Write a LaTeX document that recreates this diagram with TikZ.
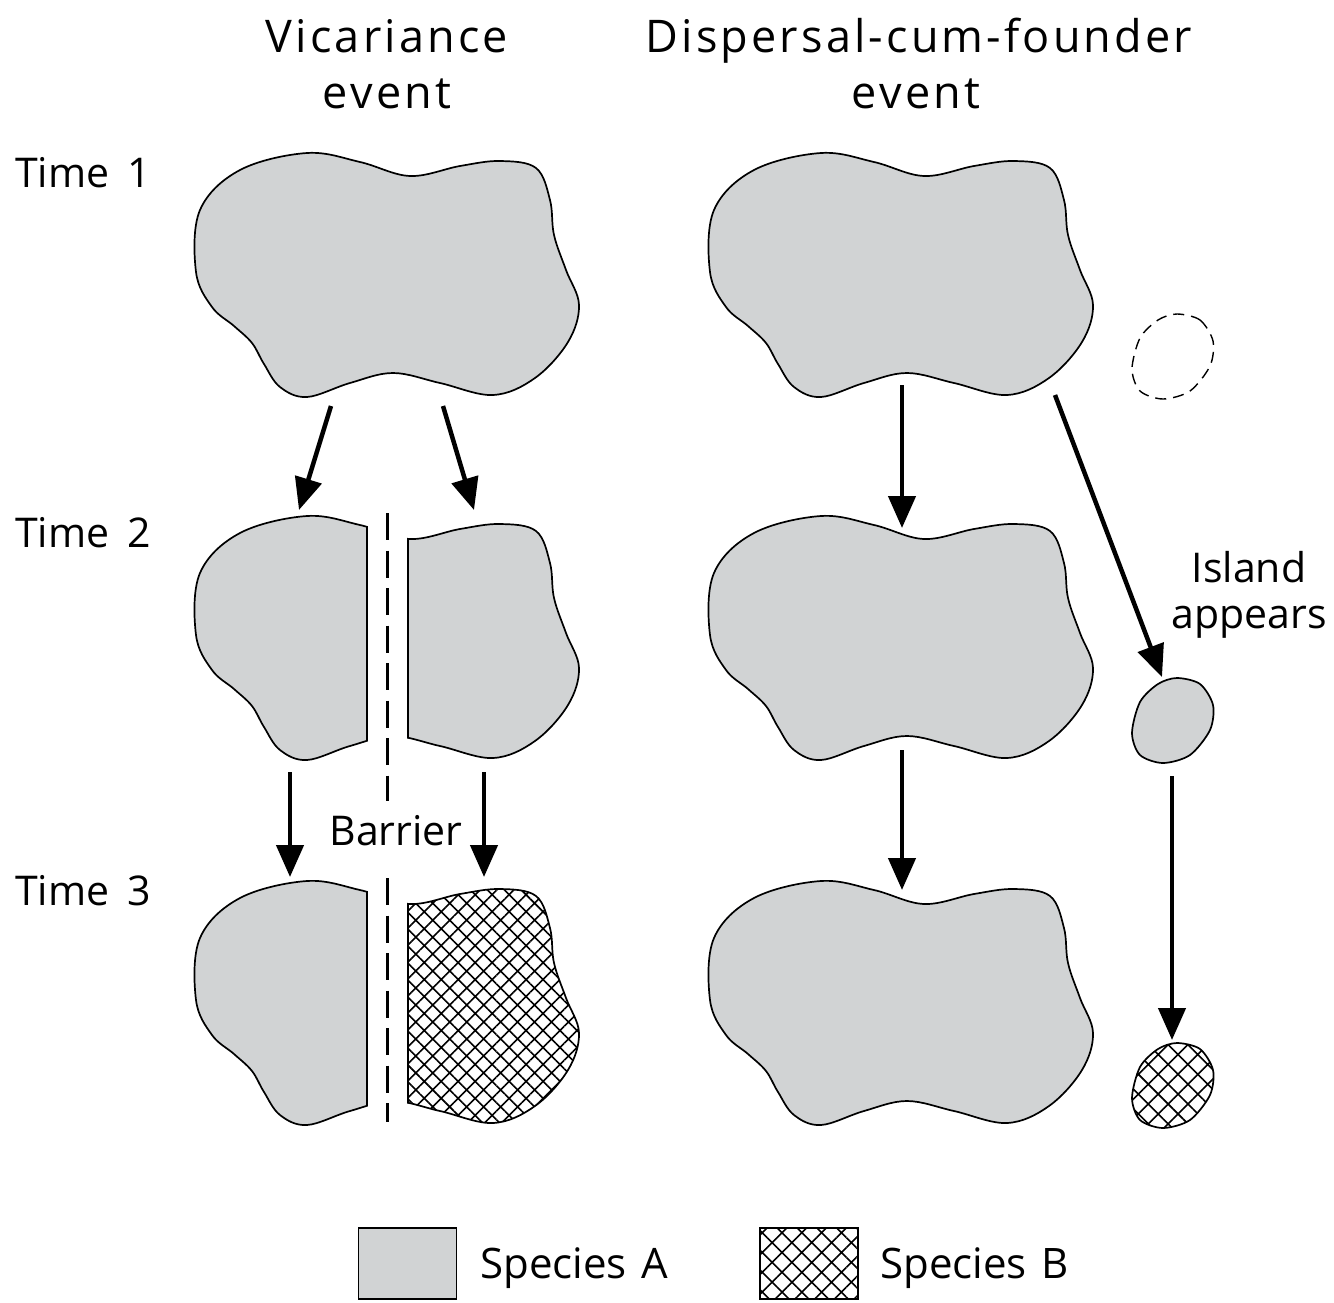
\documentclass[tikz,border=0pt]{standalone}
\usepackage{fontspec}
\setmainfont{Open Sans}
\newfontfamily\titlefont[LetterSpace=7]{Open Sans}
\usetikzlibrary{arrows.meta,patterns.meta}
\definecolor{spg}{HTML}{D1D3D4}
\begin{document}
\begin{tikzpicture}[x=1pt,y=-1pt,
  blobshape/.style={insert path={plot[smooth cycle,tension=0.6] coordinates {(307,153) (360,162) (410,176) (460,166) (500,161) (536,168) (550,200) (554,235) (566,270) (579,305) (568,342) (535,378) (493,395) (440,383) (393,373) (350,383) (307,397) (280,387) (264,364) (252,343) (234,326) (212,307) (196,272) (200,210) (240,170)}}},
  isle/.style={insert path={plot[smooth cycle] coordinates {(1177,678) (1200,684) (1213,705) (1210,730) (1190,755) (1163,763) (1140,755) (1132,733) (1140,702) (1158,684)}}},
  outl/.style={draw=black,line width=1.7pt},
  arr/.style={line width=4.5pt,-{Triangle[length=32pt,width=27pt]}},
  barrier/.style={line width=3pt,dash pattern=on 27pt off 10.5pt},
  lbl/.style={font=\fontsize{41}{48}\selectfont,inner sep=0pt},
  ttl/.style={font=\titlefont\fontsize{45}{52}\selectfont,inner sep=0pt},
  xh/.style={pattern={Hatch[angle=45,distance=12pt,line width=1.6pt]}},
  xhs/.style={pattern={Hatch[angle=45,distance=14pt,line width=1.6pt]}},
]
\useasboundingbox (0,0) rectangle (1334,1302);

% ---- titles and labels
\node[ttl,anchor=base] (tv1) at (387,52) {Vicariance};
\node[ttl,anchor=base] (tv2) at (387,108) {event};
\node[ttl,anchor=base] (td1) at (919,52) {Dispersal-cum-founder};
\node[ttl,anchor=base] (td2) at (916,108) {event};
\node[lbl,anchor=base west] (t1) at (15,187) {Time\hspace{0.45em}1};
\node[lbl,anchor=base west] (t2) at (15,547) {Time\hspace{0.45em}2};
\node[lbl,anchor=base west] (t3) at (15,905) {Time\hspace{0.45em}3};
\node[lbl,anchor=base] (bar) at (396,845) {Barrier};
\node[lbl,anchor=base] (isl1) at (1249,582) {Island};
\node[lbl,anchor=base] (isl2) at (1249,628) {appears};

% ---- vicariance, time 1
\path[fill=spg,outl,blobshape];

% ---- vicariance, time 2
\begin{scope}[shift={(0,363)}]
  \begin{scope}\clip (0,0) rectangle (367.85,500); \path[fill=spg,outl,blobshape]; \end{scope}
  \begin{scope}\path[clip,blobshape]; \draw[outl] (367,0) -- (367,500); \end{scope}
  \begin{scope}\clip (407.15,0) rectangle (700,500); \path[fill=spg,outl,blobshape]; \end{scope}
  \begin{scope}\path[clip,blobshape]; \draw[outl] (408,0) -- (408,500); \end{scope}
\end{scope}

% ---- vicariance, time 3
\begin{scope}[shift={(0,728)}]
  \begin{scope}\clip (0,0) rectangle (367.85,500); \path[fill=spg,outl,blobshape]; \end{scope}
  \begin{scope}\path[clip,blobshape]; \draw[outl] (367,0) -- (367,500); \end{scope}
  \begin{scope}\clip (407.15,0) rectangle (700,500); \path[fill=white,blobshape]; \path[xh,outl,blobshape]; \end{scope}
  \begin{scope}\path[clip,blobshape]; \draw[outl] (408,0) -- (408,500); \end{scope}
\end{scope}

% ---- dispersal blobs
\begin{scope}[shift={(514,0)}]\path[fill=spg,outl,blobshape];\end{scope}
\begin{scope}[shift={(514,363)}]\path[fill=spg,outl,blobshape];\end{scope}
\begin{scope}[shift={(514,728)}]\path[fill=spg,outl,blobshape];\end{scope}

% ---- islands
\begin{scope}[shift={(0,-364)}]\path[draw,line width=1.4pt,dash pattern=on 11pt off 7pt,isle];\end{scope}
\path[fill=spg,outl,isle];
\begin{scope}[shift={(0,365)}]\path[fill=white,isle];\path[xhs,outl,isle];\end{scope}

% ---- barrier
\coordinate (b1) at (387,513);
\coordinate (b2) at (387,801);
\coordinate (b3) at (387,878);
\coordinate (b4) at (387,1122);
\draw[barrier] (b1) -- (b2);
\draw[barrier] (b3) -- (b4);

% ---- arrows
\coordinate (a1s) at (331,406); \coordinate (a1e) at (299,510);
\coordinate (a2s) at (443,406); \coordinate (a2e) at (474,510);
\coordinate (a3s) at (290,772); \coordinate (a3e) at (290,877);
\coordinate (a4s) at (484,772); \coordinate (a4e) at (484,877);
\coordinate (a5s) at (902,385); \coordinate (a5e) at (902,528);
\coordinate (a6s) at (902,750); \coordinate (a6e) at (902,890);
\coordinate (a7s) at (1055,395); \coordinate (a7e) at (1162,677);
\coordinate (a8s) at (1172,776); \coordinate (a8e) at (1172,1040);
\draw[arr] (a1s) -- (a1e);
\draw[arr] (a2s) -- (a2e);
\draw[arr] (a3s) -- (a3e);
\draw[arr] (a4s) -- (a4e);
\draw[arr] (a5s) -- (a5e);
\draw[arr] (a6s) -- (a6e);
\draw[arr] (a7s) -- (a7e);
\draw[arr] (a8s) -- (a8e);

% ---- legend
\node[draw,line width=1.8pt,fill=spg,minimum width=98pt,minimum height=71pt,inner sep=0pt] (la) at (407.5,1263.5) {};
\node[draw,line width=1.8pt,xhs,minimum width=98pt,minimum height=71pt,inner sep=0pt] (lb) at (809,1263.5) {};
\node[lbl,anchor=base west,font=\fontsize{42}{48}\selectfont] (sa) at (480,1278) {Species\hspace{0.35em}A};
\node[lbl,anchor=base west,font=\fontsize{42}{48}\selectfont] (sb) at (880,1278) {Species\hspace{0.35em}B};
\end{tikzpicture}
\end{document}
